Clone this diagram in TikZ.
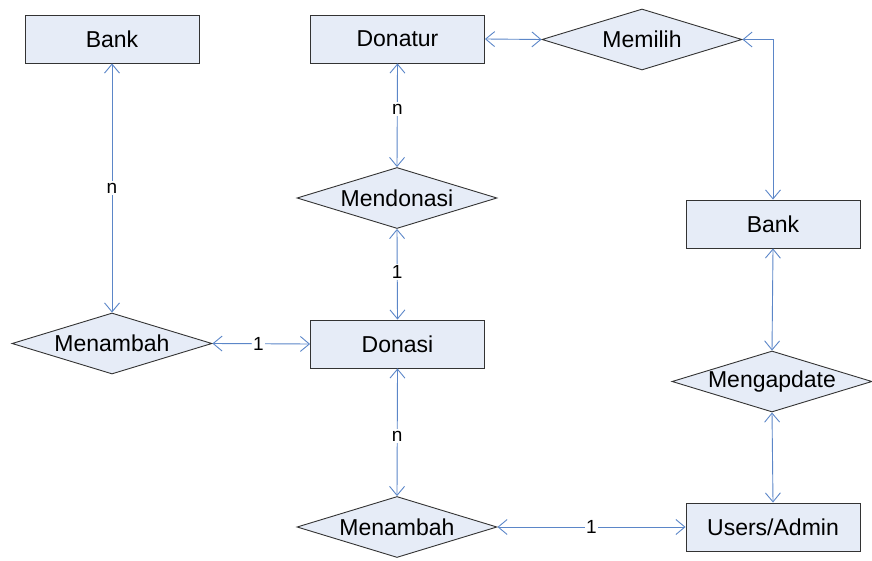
\documentclass[tikz,border=0pt]{standalone}
\usepackage{fontspec}
\setmainfont{Liberation Sans}
\usetikzlibrary{shapes.geometric,arrows.meta}
\definecolor{boxfill}{HTML}{E6ECF7}
\definecolor{linkblue}{HTML}{5B86C8}
\begin{document}
\begin{tikzpicture}[x=1pt,y=-1pt,
  entity/.style={draw=black!80,fill=boxfill,line width=0.9pt,minimum width=174pt,minimum height=48pt,inner sep=0pt,font=\fontsize{23}{27}\selectfont},
  relation/.style={diamond,draw=black!80,fill=boxfill,line width=0.9pt,minimum width=200pt,minimum height=61pt,aspect=3.3,inner sep=0pt,font=\fontsize{23}{27}\selectfont},
  link/.style={draw=linkblue,line width=0.9pt,{Straight Barb[length=9pt,width=15pt]}-{Straight Barb[length=9pt,width=15pt]}},
  card/.style={fill=white,inner sep=1.5pt,font=\fontsize{19}{22}\selectfont}]
\useasboundingbox (0,0) rectangle (872,561);

% entities
\node[entity] (bankL) at (112,39) {Bank};
\node[entity] (donatur) at (397.5,39) {Donatur};
\node[entity] (bankR) at (773,224) {Bank};
\node[entity] (donasi) at (397.5,344) {Donasi};
\node[entity] (users) at (773,527) {Users/Admin};

% relationships
\node[relation] (memilih) at (642,39.5) {Memilih};
\node[relation] (mendonasi) at (397,198) {Mendonasi};
\node[relation] (menambahL) at (112,343.5) {Menambah};
\node[relation] (mengapdate) at (772,381.5) {Mengapdate};
\node[relation] (menambahB) at (397,527) {Menambah};

% connectors with cardinalities
\draw[link] (bankL.south) -- node[card] {n} (menambahL.north);
\draw[link] (donatur.south) -- node[card,pos=0.44] {n} (mendonasi.north);
\draw[link] (mendonasi.south) -- node[card,pos=0.48] {1} (donasi.north);
\draw[link] (menambahL.east) -- node[card,pos=0.47] {1} (donasi.west);
\draw[link] (donasi.south) -- node[card,pos=0.53] {n} (menambahB.north);
\draw[link] (menambahB.east) -- node[card,pos=0.5] {1} (users.west);
\draw[link] (donatur.east) -- (memilih.west);
\draw[link] (memilih.east) -| (bankR.north);
\draw[link] (bankR.south) -- (mengapdate.north);
\draw[link] (mengapdate.south) -- (users.north);
\end{tikzpicture}
\end{document}
